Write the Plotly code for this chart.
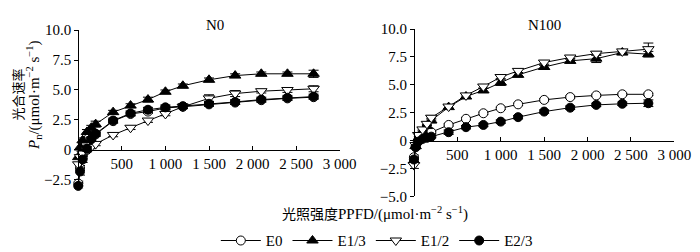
import plotly.graph_objects as go

ppfd = [0, 20, 50, 100, 150, 200, 400, 600, 800, 1000, 1200, 1500, 1800, 2100, 2400, 2700]

# N0 panel
n0_e0 = [-2.8, -1.5, -0.6, 0.0, 0.9, 1.3, 2.4, 3.0, 3.2, 3.5, 3.6, 3.8, 3.95, 4.15, 4.3, 4.4]
n0_e13 = [-0.6, 0.2, 0.8, 1.5, 1.85, 2.15, 3.15, 3.7, 4.2, 4.85, 5.35, 5.85, 6.2, 6.35, 6.35, 6.35]
n0_e12 = [-1.2, -0.6, -0.3, 0.0, 0.25, 0.5, 1.25, 1.85, 2.45, 3.0, 3.6, 4.3, 4.7, 4.9, 5.0, 5.1]
n0_e23 = [-3.0, -1.8, -0.8, 0.1, 0.9, 1.35, 2.45, 3.05, 3.35, 3.55, 3.65, 3.85, 4.0, 4.2, 4.35, 4.45]
n0_e0_err = [0.2, 0.2, 0.15, 0.15, 0.15, 0.15, 0.15, 0.15, 0.15, 0.15, 0.15, 0.15, 0.15, 0.15, 0.15, 0.15]
n0_e13_err = [0.2, 0.2, 0.2, 0.2, 0.2, 0.25, 0.15, 0.15, 0.2, 0.15, 0.15, 0.15, 0.15, 0.15, 0.15, 0.3]
n0_e12_err = [0.2, 0.2, 0.15, 0.15, 0.15, 0.15, 0.15, 0.15, 0.15, 0.15, 0.15, 0.3, 0.25, 0.15, 0.2, 0.25]
n0_e23_err = [0.25, 0.3, 0.25, 0.2, 0.2, 0.2, 0.2, 0.2, 0.2, 0.2, 0.2, 0.2, 0.2, 0.2, 0.2, 0.2]

# N100 panel
n100_e0 = [-1.5, -0.5, 0.0, 0.3, 0.5, 0.75, 1.4, 1.95, 2.45, 2.9, 3.25, 3.65, 3.9, 4.05, 4.15, 4.15]
n100_e13 = [-1.8, -0.5, 0.2, 0.8, 1.3, 1.8, 3.0, 3.95, 4.5, 5.2, 5.9, 6.6, 7.15, 7.35, 7.9, 7.75]
n100_e12 = [-2.2, -0.4, 0.5, 1.0, 1.5, 2.05, 3.05, 4.05, 4.85, 5.7, 6.25, 7.0, 7.45, 7.8, 8.0, 8.2]
n100_e23 = [-1.7, -0.6, -0.1, 0.15, 0.25, 0.35, 0.75, 1.2, 1.4, 1.7, 2.1, 2.6, 2.95, 3.2, 3.3, 3.35]
n100_e0_err = [0.2, 0.15, 0.1, 0.1, 0.1, 0.1, 0.1, 0.1, 0.1, 0.1, 0.1, 0.1, 0.1, 0.1, 0.1, 0.1]
n100_e13_err = [0.2, 0.2, 0.15, 0.15, 0.15, 0.2, 0.15, 0.15, 0.2, 0.25, 0.2, 0.15, 0.2, 0.35, 0.2, 0.25]
n100_e12_err = [0.3, 0.2, 0.15, 0.15, 0.15, 0.2, 0.15, 0.15, 0.15, 0.15, 0.15, 0.15, 0.15, 0.15, 0.15, 0.55]
n100_e23_err = [0.2, 0.15, 0.1, 0.1, 0.1, 0.1, 0.2, 0.15, 0.15, 0.15, 0.15, 0.15, 0.15, 0.15, 0.15, 0.3]

series_names = ["E0", "E1/3", "E1/2", "E2/3"]
symbols = ["circle", "triangle-up", "triangle-down", "circle"]
fills = ["white", "black", "white", "black"]

x_tickvals = [500, 1000, 1500, 2000, 2500, 3000]
x_ticktext = ["500", "1 000", "1 500", "2 000", "2 500", "3 000"]
y_left_vals = [-2.5, 0, 2.5, 5.0, 7.5, 10.0]
y_left_text = ["\u22122.5", "0", "2.5", "5.0", "7.5", "10.0"]
y_right_vals = [-5.0, -2.5, 0, 2.5, 5.0, 7.5, 10.0]
y_right_text = ["\u22125.0", "\u22122.5", "0", "2.5", "5.0", "7.5", "10.0"]

FONT = "Liberation Serif, Times New Roman, serif"
CJK = "Noto Sans CJK SC"
W, H = 700, 252

fig = go.Figure()

panels = [
    ("x", "y", [n0_e0, n0_e13, n0_e12, n0_e23], [n0_e0_err, n0_e13_err, n0_e12_err, n0_e23_err]),
    ("x2", "y2", [n100_e0, n100_e13, n100_e12, n100_e23], [n100_e0_err, n100_e13_err, n100_e12_err, n100_e23_err]),
]
for pi, (xa, ya, ys, errs) in enumerate(panels):
    for i in range(4):
        sym = symbols[i]
        fig.add_trace(go.Scatter(
            x=ppfd, y=ys[i], xaxis=xa, yaxis=ya,
            mode="lines+markers", name=series_names[i],
            showlegend=(pi == 0), legendgroup=series_names[i],
            line=dict(color="black", width=1),
            marker=dict(symbol=sym, size=10 if "triangle" in sym else 9,
                        color=fills[i], line=dict(color="black", width=1)),
            error_y=dict(type="data", array=errs[i], color="black", thickness=1, width=5),
            cliponaxis=False,
        ))

def fx(px):
    return px / W

def fy(py):
    return 1 - py / H

l_range = [-3.2, 10]
r_range = [-5, 10]
left_top = 15
left_bot = left_top + (l_range[1] - l_range[0]) * 12.8
right_top, right_bot = 14, 192.5
l_zero_px = left_top + (10 - 0) / (10 - l_range[0]) * (left_bot - left_top)
r_zero_px = right_top + (10 - 0) / (10 - r_range[0]) * (right_bot - right_top)

axis_common = dict(showgrid=False, zeroline=False, showline=True, linecolor="black", linewidth=1,
                   tickfont=dict(family=FONT, size=15, color="black"), tickcolor="black")

fig.update_layout(
    width=W, height=H,
    margin=dict(l=0, r=0, t=0, b=0),
    paper_bgcolor="white", plot_bgcolor="rgba(0,0,0,0)",
    font=dict(family=FONT, size=15, color="black"),
    xaxis=dict(domain=[fx(72), fx(340)], range=[0, 3000], anchor="free", position=fy(l_zero_px),
               tickvals=x_tickvals, ticktext=x_ticktext, ticks="inside", ticklen=4, **axis_common),
    yaxis=dict(domain=[fy(left_bot), fy(left_top)], range=l_range, anchor="free", position=fx(72),
               tickvals=y_left_vals, ticktext=y_left_text, ticks="outside", ticklen=4, **axis_common),
    xaxis2=dict(domain=[fx(416), fx(683)], range=[0, 3000], anchor="free", position=fy(r_zero_px),
                tickvals=x_tickvals, ticktext=x_ticktext, ticks="inside", ticklen=4, **axis_common),
    yaxis2=dict(domain=[fy(right_bot), fy(right_top)], range=r_range, anchor="free", position=fx(416),
                tickvals=y_right_vals, ticktext=y_right_text, ticks="outside", ticklen=4, **axis_common),
    legend=dict(orientation="h", x=fx(378), xanchor="center", y=fy(240), yanchor="middle",
                font=dict(family=FONT, size=15, color="black"), bgcolor="rgba(0,0,0,0)",
                itemwidth=40, tracegroupgap=0),
    showlegend=True,
)

annotations = [
    dict(text="N0", x=fx(212), y=fy(10), xanchor="center", yanchor="middle"),
    dict(text="N100", x=fx(550), y=fy(10), xanchor="center", yanchor="middle"),
    dict(text="<span style='font-family:Noto Sans CJK SC'>光合速率</span>", x=fx(10), y=fy(84),
         xanchor="center", yanchor="middle", textangle=-90, font=dict(family=CJK, size=13, color="black")),
    dict(text="<i>P</i><sub>n</sub>/(μmol·m<sup>\u22122</sup> s<sup>\u22121</sup>)", x=fx(26), y=fy(84),
         xanchor="center", yanchor="middle", textangle=-90),
    dict(text="<span style='font-family:Noto Sans CJK SC;font-size:14px'>光照强度</span>PPFD/(μmol·m<sup>\u22122</sup> s<sup>\u22121</sup>)",
         x=fx(376), y=fy(210), xanchor="center", yanchor="middle"),
]
for a in annotations:
    a.update(xref="paper", yref="paper", showarrow=False)
    a.setdefault("font", dict(family=FONT, size=15, color="black"))
fig.update_layout(annotations=annotations)

fig.write_html("out.html")
